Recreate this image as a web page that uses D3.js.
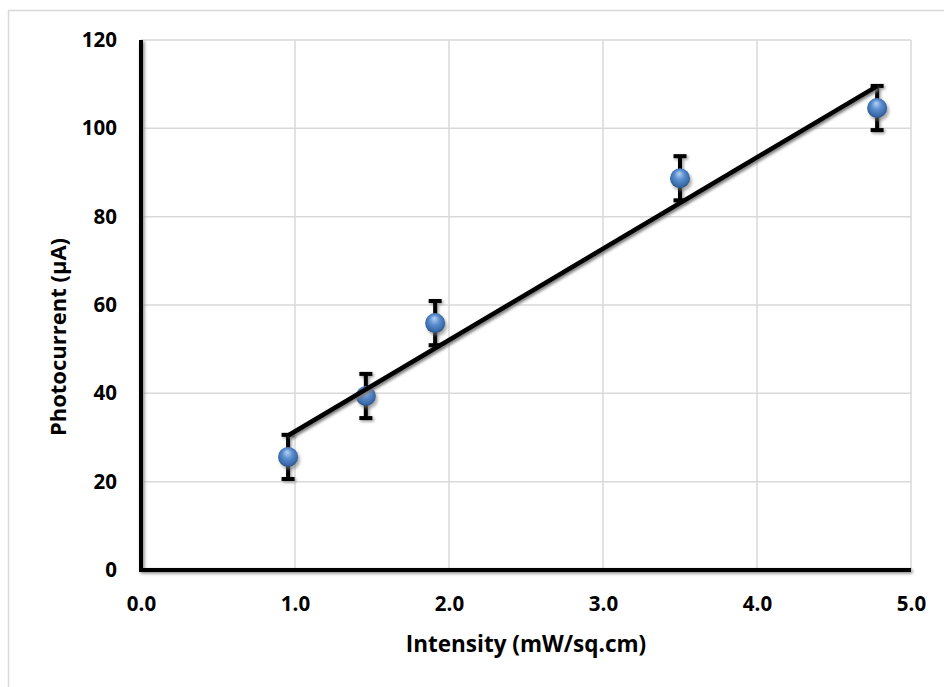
<!DOCTYPE html>
<html>
<head>
<meta charset="utf-8">
<script src="https://cdn.jsdelivr.net/npm/d3@7"></script>
<style>
  body { margin: 0; background: #fff; }
  text { font-family: "Open Sans", Lato, sans-serif; font-weight: bold; fill: #000; }
</style>
</head>
<body>
<div id="wrapper"></div>
<script>
// data
const intensity = [0.955, 1.46, 1.91, 3.50, 4.78];
const photocurrent = [25.6, 39.4, 55.9, 88.7, 104.6];
const errorBar = [5, 5, 5, 5, 5];
const xTicks = [0, 1, 2, 3, 4, 5];
const yTicks = [0, 20, 40, 60, 80, 100, 120];

const width = 944, height = 687;
const plotLeft = 141, plotRight = 911, plotTop = 40, plotBottom = 570;

const svg = d3.select("#wrapper").append("svg")
  .attr("width", width)
  .attr("height", height);

const defs = svg.append("defs");
const grad = defs.append("radialGradient")
  .attr("id", "ball")
  .attr("cx", "50%").attr("cy", "45%").attr("r", "55%")
  .attr("fx", "45%").attr("fy", "25%");
grad.append("stop").attr("offset", "0%").attr("stop-color", "#b9d3f2");
grad.append("stop").attr("offset", "45%").attr("stop-color", "#5b8fd0");
grad.append("stop").attr("offset", "85%").attr("stop-color", "#3a6aa9");
grad.append("stop").attr("offset", "100%").attr("stop-color", "#2a5184");

const blur = defs.append("filter").attr("id", "shadow")
  .attr("x", "-50%").attr("y", "-50%").attr("width", "200%").attr("height", "200%");
blur.append("feGaussianBlur").attr("stdDeviation", 1.5);

// outer chart border
svg.append("rect")
  .attr("x", 8.5).attr("y", 10.5)
  .attr("width", 960).attr("height", 700)
  .attr("fill", "none")
  .attr("stroke", "#d9d9d9")
  .attr("stroke-width", 1.5);

const x = d3.scaleLinear().domain([0, 5]).range([plotLeft, plotRight]);
const y = d3.scaleLinear().domain([0, 120]).range([plotBottom, plotTop]);

// gridlines
svg.append("g").selectAll("line").data(xTicks.slice(1)).join("line")
  .attr("x1", d => x(d)).attr("x2", d => x(d))
  .attr("y1", plotTop).attr("y2", plotBottom)
  .attr("stroke", "#d9d9d9").attr("stroke-width", 1.5);
svg.append("g").selectAll("line").data(yTicks.slice(1)).join("line")
  .attr("x1", plotLeft).attr("x2", plotRight)
  .attr("y1", d => y(d)).attr("y2", d => y(d))
  .attr("stroke", "#d9d9d9").attr("stroke-width", 1.5);

// axes
const xAxis = svg.append("g")
  .attr("transform", `translate(0,${plotBottom})`)
  .call(d3.axisBottom(x).tickValues(xTicks).tickSize(0).tickPadding(26).tickFormat(d3.format(".1f")));
const yAxis = svg.append("g")
  .attr("transform", `translate(${plotLeft},0)`)
  .call(d3.axisLeft(y).tickValues(yTicks).tickSize(0).tickPadding(24).tickFormat(d3.format("d")));
[xAxis, yAxis].forEach(a => {
  a.select(".domain").remove();
  a.selectAll("text").attr("font-size", 20.5).attr("font-family", "'Open Sans', sans-serif").attr("font-weight", "bold").attr("fill", "#000");
});

// axis lines with a soft shadow
const axisPath = `M${x(0)},${y(120)}V${y(0)}H${x(5)}`;
svg.append("path").attr("d", axisPath)
  .attr("fill", "none").attr("stroke", "#888").attr("stroke-width", 4)
  .attr("transform", "translate(1.5,1.5)").attr("filter", "url(#shadow)");
svg.append("path").attr("d", axisPath)
  .attr("fill", "none").attr("stroke", "#000").attr("stroke-width", 4)
  .attr("stroke-linejoin", "miter");

// linear trendline (least squares)
const mx = d3.mean(intensity), my = d3.mean(photocurrent);
const slope = d3.sum(intensity, (d, i) => (d - mx) * (photocurrent[i] - my)) /
  d3.sum(intensity, d => (d - mx) * (d - mx));
const icpt = my - slope * mx;
const xr = d3.extent(intensity);
const trend = xr.map(v => [v, icpt + slope * v]);
const lineGen = d3.line().x(d => x(d[0])).y(d => y(d[1]));

const points = intensity.map((v, i) => ({ x: v, y: photocurrent[i], e: errorBar[i] }));

// error bars (shadow + bar)
function drawErr(g, color, dx, filt) {
  const eb = g.selectAll("g").data(points).join("g")
    .attr("transform", `translate(${dx},${dx})`)
    .attr("filter", filt);
  eb.append("line")
    .attr("x1", d => x(d.x)).attr("x2", d => x(d.x))
    .attr("y1", d => y(d.y + d.e)).attr("y2", d => y(d.y - d.e))
    .attr("stroke", color).attr("stroke-width", 4);
  eb.append("line")
    .attr("x1", d => x(d.x) - 6.5).attr("x2", d => x(d.x) + 6.5)
    .attr("y1", d => y(d.y + d.e)).attr("y2", d => y(d.y + d.e))
    .attr("stroke", color).attr("stroke-width", 4);
  eb.append("line")
    .attr("x1", d => x(d.x) - 6.5).attr("x2", d => x(d.x) + 6.5)
    .attr("y1", d => y(d.y - d.e)).attr("y2", d => y(d.y - d.e))
    .attr("stroke", color).attr("stroke-width", 4);
}
drawErr(svg.append("g"), "#999", 1.5, "url(#shadow)");
drawErr(svg.append("g"), "#000", 0, null);

// markers
svg.append("g").selectAll("circle").data(points).join("circle")
  .attr("cx", d => x(d.x) + 2).attr("cy", d => y(d.y) + 3)
  .attr("r", 10).attr("fill", "#777").attr("opacity", 0.6)
  .attr("filter", "url(#shadow)");
svg.append("g").selectAll("circle").data(points).join("circle")
  .attr("cx", d => x(d.x)).attr("cy", d => y(d.y))
  .attr("r", 10).attr("fill", "url(#ball)");

// trendline on top
svg.append("path").datum(trend).attr("d", lineGen)
  .attr("fill", "none").attr("stroke", "#777").attr("stroke-width", 4.5)
  .attr("transform", "translate(1.5,2)").attr("filter", "url(#shadow)");
svg.append("path").datum(trend).attr("d", lineGen)
  .attr("fill", "none").attr("stroke", "#000").attr("stroke-width", 4.5);

// axis titles
svg.append("text")
  .attr("x", (plotLeft + plotRight) / 2).attr("y", 652)
  .attr("text-anchor", "middle").attr("font-size", 22.5)
  .text("Intensity (mW/sq.cm)");
svg.append("text")
  .attr("transform", `translate(66,337) rotate(-90)`)
  .attr("text-anchor", "middle").attr("font-size", 22)
  .text("Photocurrent (µA)");
</script>
</body>
</html>
